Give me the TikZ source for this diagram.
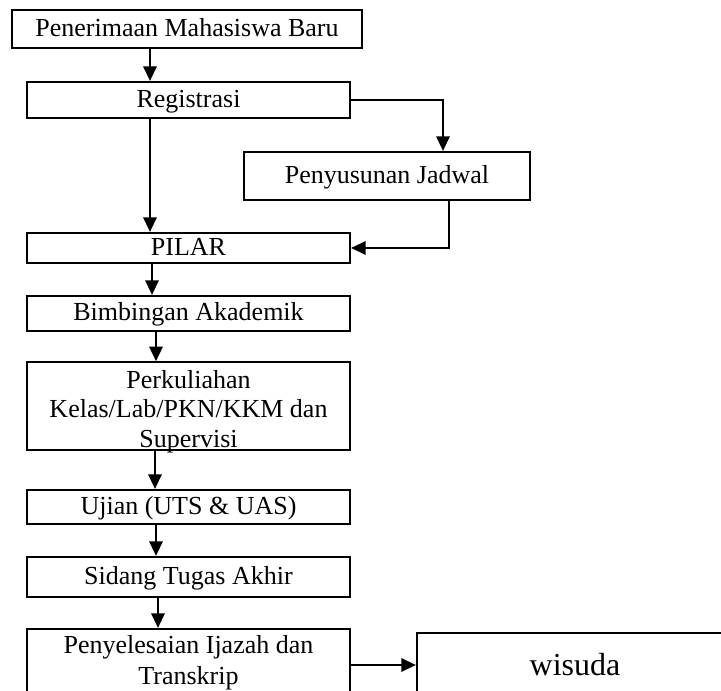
\documentclass[tikz,border=0pt]{standalone}
\usepackage{fontspec}
\setmainfont{Liberation Serif}
\usetikzlibrary{arrows.meta}
\begin{document}
\begin{tikzpicture}[x=0.75pt,y=-0.75pt,
  box/.style={draw,line width=1.6pt,inner sep=0pt,align=center,
    font=\fontsize{19.5}{22}\selectfont},
  one/.style={text height=14pt,text depth=3pt},
  arr/.style={line width=1.7pt,-{Triangle[length=11pt,width=10pt]}}]
\useasboundingbox (0,0) rectangle (721,691);
\node[box,one,minimum width={350*0.75pt},minimum height={38*0.75pt}] (b1) at (187,29) {Penerimaan Mahasiswa Baru};
\node[box,one,minimum width={323*0.75pt},minimum height={36*0.75pt}] (b2) at (188.5,100) {Registrasi};
\node[box,one,minimum width={286*0.75pt},minimum height={48*0.75pt}] (b3) at (387,176) {Penyusunan Jadwal};
\node[box,one,minimum width={323*0.75pt},minimum height={30*0.75pt}] (b4) at (188.5,248) {PILAR};
\node[box,one,minimum width={323*0.75pt},minimum height={35*0.75pt}] (b5) at (188.5,313.5) {Bimbingan Akademik};
\node[box,minimum width={323*0.75pt},minimum height={86*0.75pt},text height=63.5pt,text depth=2pt] (b6) at (188.5,406) {Perkuliahan\\Kelas/Lab/PKN/KKM dan\\Supervisi};
\node[box,one,minimum width={323*0.75pt},minimum height={34*0.75pt}] (b7) at (188.5,507) {Ujian (UTS \& UAS)};
\node[box,one,minimum width={323*0.75pt},minimum height={40*0.75pt}] (b8) at (188.5,577) {Sidang Tugas Akhir};
\node[box,minimum width={323*0.75pt},minimum height={68*0.75pt},font=\fontsize{19.5}{23}\selectfont] (b9) at (188.5,663) {Penyelesaian Ijazah dan\\Transkrip};
\node[box,minimum width={316*0.75pt},minimum height={64*0.75pt},text height=18pt,text depth=3pt,font=\fontsize{24}{26}\selectfont] (w) at (575,665) {wisuda};
\coordinate (x150) at (150,0);
\coordinate (x152) at (152,0);
\coordinate (x155) at (155,0);
\coordinate (x156) at (156,0);
\coordinate (x158) at (158,0);
\coordinate (x443) at (443,0);
\coordinate (x449) at (449,0);
\draw[arr] (b1.south -| x150) -- (b2.north -| x150);
\draw[arr] (b2.east) -| (b3.north -| x443);
\draw[arr] (b2.south -| x150) -- (b4.north -| x150);
\draw[arr] (b3.south -| x449) |- (b4.east);
\draw[arr] (b4.south -| x152) -- (b5.north -| x152);
\draw[arr] (b5.south -| x156) -- (b6.north -| x156);
\draw[arr] (b6.south -| x155) -- (b7.north -| x155);
\draw[arr] (b7.south -| x156) -- (b8.north -| x156);
\draw[arr] (b8.south -| x158) -- (b9.north -| x158);
\draw[arr] (b9.east |- w.west) -- (w.west);
\end{tikzpicture}
\end{document}
